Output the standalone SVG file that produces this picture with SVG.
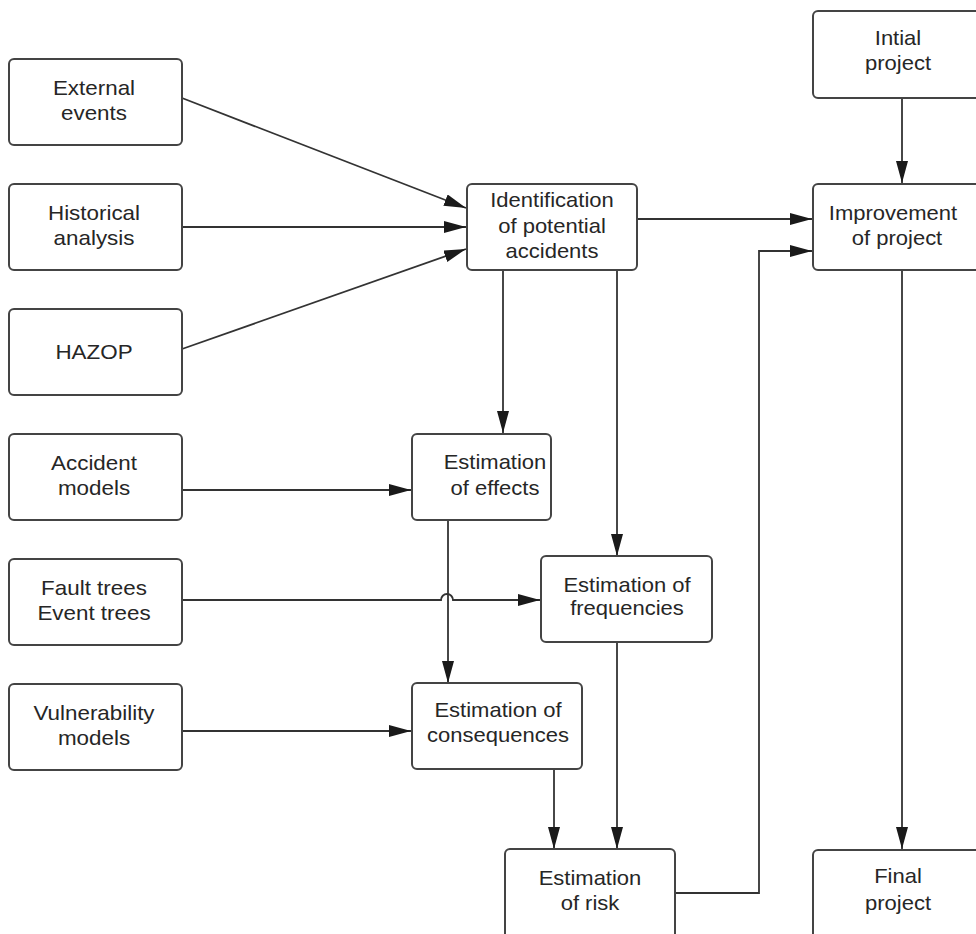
<svg xmlns="http://www.w3.org/2000/svg" width="976" height="934" viewBox="0 0 976 934">
  <style>
    .box { fill: #ffffff; stroke: #444444; stroke-width: 2; }
    .lbl { font-family: "Liberation Sans", Arial, sans-serif; font-size: 20px; fill: #262626; text-anchor: middle; }
    .wire { fill: none; stroke: #333333; stroke-width: 1.8; }
  </style>
  <defs>
    <marker id="arrow" markerUnits="userSpaceOnUse" markerWidth="23" markerHeight="12" refX="22" refY="6" orient="auto">
      <path d="M0,0 L22,6 L0,12 Z" fill="#1a1a1a"/>
    </marker>
  </defs>
  <rect width="976" height="934" fill="#ffffff"/>

  <!-- connectors -->
  <g id="connectors">
    <line class="wire" x1="182" y1="98" x2="466" y2="208" marker-end="url(#arrow)"/>
    <line class="wire" x1="182" y1="227" x2="466" y2="227" marker-end="url(#arrow)"/>
    <line class="wire" x1="182" y1="349" x2="466" y2="249" marker-end="url(#arrow)"/>
    <line class="wire" x1="637" y1="219" x2="812" y2="219" marker-end="url(#arrow)"/>
    <line class="wire" x1="503" y1="270" x2="503" y2="433" marker-end="url(#arrow)"/>
    <line class="wire" x1="617" y1="270" x2="617" y2="556" marker-end="url(#arrow)"/>
    <line class="wire" x1="902" y1="98" x2="902" y2="183" marker-end="url(#arrow)"/>
    <line class="wire" x1="902" y1="270" x2="902" y2="849" marker-end="url(#arrow)"/>
    <line class="wire" x1="182" y1="490" x2="411" y2="490" marker-end="url(#arrow)"/>
    <path class="wire" d="M182,600 H441 A6,6 0 0 1 453,600 H540" marker-end="url(#arrow)"/>
    <line class="wire" x1="448" y1="520" x2="448" y2="683" marker-end="url(#arrow)"/>
    <line class="wire" x1="182" y1="731" x2="411" y2="731" marker-end="url(#arrow)"/>
    <line class="wire" x1="554" y1="769" x2="554" y2="849" marker-end="url(#arrow)"/>
    <line class="wire" x1="617" y1="642" x2="617" y2="849" marker-end="url(#arrow)"/>
    <path class="wire" d="M675,893 H759 V251 H812" marker-end="url(#arrow)"/>
  </g>

  <!-- input boxes on the left -->
  <g id="external-events">
    <rect class="box" x="9" y="59" width="173" height="86" rx="5"/>
    <text class="lbl" transform="translate(94 95) scale(1.12 1)">External</text>
    <text class="lbl" transform="translate(94 120) scale(1.12 1)">events</text>
  </g>
  <g id="historical-analysis">
    <rect class="box" x="9" y="184" width="173" height="86" rx="5"/>
    <text class="lbl" transform="translate(94 220) scale(1.12 1)">Historical</text>
    <text class="lbl" transform="translate(94 245) scale(1.12 1)">analysis</text>
  </g>
  <g id="hazop">
    <rect class="box" x="9" y="309" width="173" height="86" rx="5"/>
    <text class="lbl" transform="translate(94 359) scale(1.12 1)">HAZOP</text>
  </g>
  <g id="accident-models">
    <rect class="box" x="9" y="434" width="173" height="86" rx="5"/>
    <text class="lbl" transform="translate(94 470) scale(1.12 1)">Accident</text>
    <text class="lbl" transform="translate(94 495) scale(1.12 1)">models</text>
  </g>
  <g id="fault-event-trees">
    <rect class="box" x="9" y="559" width="173" height="86" rx="5"/>
    <text class="lbl" transform="translate(94 595) scale(1.12 1)">Fault trees</text>
    <text class="lbl" transform="translate(94 620) scale(1.12 1)">Event trees</text>
  </g>
  <g id="vulnerability-models">
    <rect class="box" x="9" y="684" width="173" height="86" rx="5"/>
    <text class="lbl" transform="translate(94 720) scale(1.12 1)">Vulnerability</text>
    <text class="lbl" transform="translate(94 745) scale(1.12 1)">models</text>
  </g>

  <!-- analysis steps -->
  <g id="identification">
    <rect class="box" x="467" y="184" width="170" height="86" rx="5"/>
    <text class="lbl" transform="translate(552 207) scale(1.1 1)">Identification</text>
    <text class="lbl" transform="translate(552 233) scale(1.1 1)">of potential</text>
    <text class="lbl" transform="translate(552 258) scale(1.1 1)">accidents</text>
  </g>
  <g id="estimation-effects">
    <rect class="box" x="412" y="434" width="139" height="86" rx="5"/>
    <text class="lbl" transform="translate(495 469) scale(1.1 1)">Estimation</text>
    <text class="lbl" transform="translate(495 495) scale(1.1 1)">of effects</text>
  </g>
  <g id="estimation-frequencies">
    <rect class="box" x="541" y="556" width="171" height="86" rx="5"/>
    <text class="lbl" transform="translate(627 592) scale(1.1 1)">Estimation of</text>
    <text class="lbl" transform="translate(627 615) scale(1.1 1)">frequencies</text>
  </g>
  <g id="estimation-consequences">
    <rect class="box" x="412" y="683" width="170" height="86" rx="5"/>
    <text class="lbl" transform="translate(498 717) scale(1.1 1)">Estimation of</text>
    <text class="lbl" transform="translate(498 742) scale(1.1 1)">consequences</text>
  </g>
  <g id="estimation-risk">
    <rect class="box" x="505" y="849" width="170" height="100" rx="5"/>
    <text class="lbl" transform="translate(590 885) scale(1.1 1)">Estimation</text>
    <text class="lbl" transform="translate(590 910) scale(1.1 1)">of risk</text>
  </g>

  <!-- project column -->
  <g id="initial-project">
    <rect class="box" x="813" y="11" width="180" height="87" rx="5"/>
    <text class="lbl" transform="translate(898 45) scale(1.1 1)">Intial</text>
    <text class="lbl" transform="translate(898 70) scale(1.1 1)">project</text>
  </g>
  <g id="improvement">
    <rect class="box" x="813" y="184" width="180" height="86" rx="5"/>
    <text class="lbl" transform="translate(893 220) scale(1.1 1)">Improvement</text>
    <text class="lbl" transform="translate(897 245) scale(1.1 1)">of project</text>
  </g>
  <g id="final-project">
    <rect class="box" x="813" y="850" width="180" height="100" rx="5"/>
    <text class="lbl" transform="translate(898 883) scale(1.1 1)">Final</text>
    <text class="lbl" transform="translate(898 910) scale(1.1 1)">project</text>
  </g>
</svg>
